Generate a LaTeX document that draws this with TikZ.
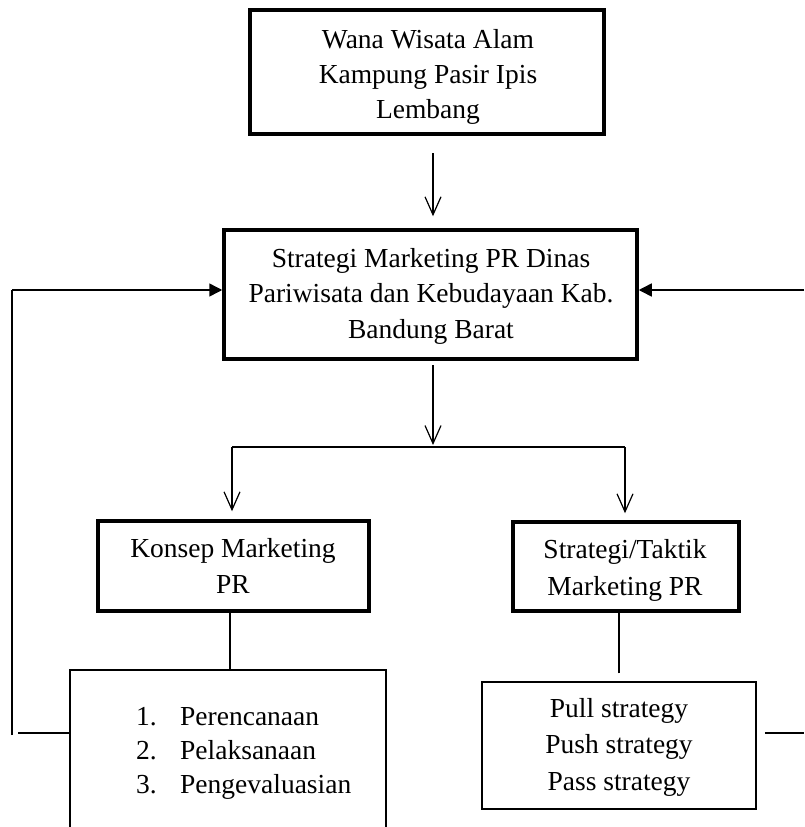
\documentclass[tikz,border=0pt]{standalone}
\usepackage{fontspec}
\setmainfont{Liberation Serif}
\usetikzlibrary{arrows.meta}
\begin{document}
\begin{tikzpicture}[x=1pt,y=-1pt,
  thickbox/.style={draw, line width=3.5pt, inner sep=0pt},
  thinbox/.style={draw, line width=1.5pt, inner sep=0pt},
  txt/.style={inner sep=0pt, anchor=base, font=\fontsize{27.5}{33}\selectfont},
  txtl/.style={txt, anchor=base west},
  arr/.style={line width=1.2pt, -{Straight Barb[length=18pt,width=16pt,line width=1.2pt]}},
  fb/.style={line width=1.5pt},
  fbarr/.style={line width=1.5pt, -{Triangle[length=13pt,width=13pt]}},
  ln/.style={line width=1.5pt}]
\useasboundingbox (0,0) rectangle (804,827);

% boxes
\node[thickbox, minimum width=354pt, minimum height=124pt] (top) at (427,72) {};
\node[thickbox, minimum width=413pt, minimum height=129pt] (mid) at (430.5,294.5) {};
\node[thickbox, minimum width=271pt, minimum height=90pt] (kon) at (233.5,566) {};
\node[thickbox, minimum width=226pt, minimum height=89pt] (str) at (626,566.5) {};
\node[thinbox, minimum width=316pt, minimum height=180pt] (list) at (228,760) {};
\node[thinbox, minimum width=274pt, minimum height=127pt] (list2) at (619,745.5) {};

% texts
\node[txt] (ta) at (428,48) {Wana Wisata Alam};
\node[txt] (tb) at (428,83) {Kampung Pasir Ipis};
\node[txt] (tc) at (428,118) {Lembang};
\node[txt] (ma) at (431,267) {Strategi Marketing PR Dinas};
\node[txt] (mb) at (431,302) {Pariwisata dan Kebudayaan Kab.};
\node[txt] (mc) at (431,338) {Bandung Barat};
\node[txt] (ka) at (233,557) {Konsep Marketing};
\node[txt] (kb) at (233,593) {PR};
\node[txt] (sa) at (625,558) {Strategi/Taktik};
\node[txt] (sb) at (625,595) {Marketing PR};
\node[txtl] (n1) at (136,725) {1.};
\node[txtl] (l1) at (180,725) {Perencanaan};
\node[txtl] (n2) at (136,759) {2.};
\node[txtl] (l2) at (180,759) {Pelaksanaan};
\node[txtl] (n3) at (136,793) {3.};
\node[txtl] (l3) at (180,793) {Pengevaluasian};
\node[txt] (pa) at (619,717) {Pull strategy};
\node[txt] (pb) at (619,753) {Push strategy};
\node[txt] (pc) at (619,790) {Pass strategy};

% free points
\coordinate (a1s) at (433,153);
\coordinate (a2s) at (433,365);
\coordinate (split) at (433,445);
\coordinate (bl) at (232,447);
\coordinate (br) at (625,447);
\coordinate (lc) at (12,733);
\coordinate (la) at (12,290);
\coordinate (ra) at (804,290);
\coordinate (rb) at (804,733);

% connectors
\draw[arr, shorten >=12pt] (a1s) -- (a1s |- mid.north);
\draw[arr] (a2s) -- (split);
\draw[ln] (bl) -- (br);
\draw[arr, shorten >=8pt] (bl) -- (bl |- kon.north);
\draw[arr, shorten >=7pt] (br) -- (br |- str.north);
\draw[ln] (230,611) -- (230,670);
\draw[ln, shorten <=8pt] (list2.north) -- (list2.north |- str.south);
\draw[fb] (list.west |- lc) -- ([xshift=6pt]lc);
\draw[fb] ([yshift=-2pt]lc) -- (la);
\draw[fbarr] (la) -- (la -| mid.west);
\draw[fbarr] (ra) -- (ra -| mid.east);
\draw[fb, shorten <=8pt] (list2.east |- rb) -- (rb);
\end{tikzpicture}
\end{document}
